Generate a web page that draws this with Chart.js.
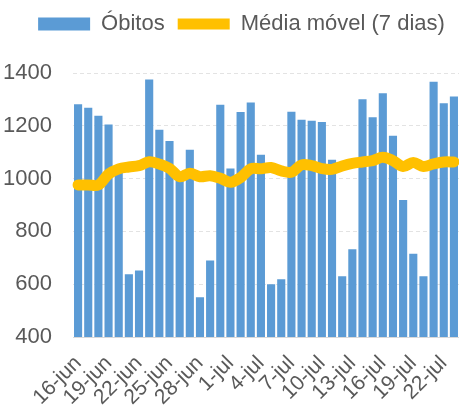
<!DOCTYPE html>
<html lang="pt">
<head>
  <meta charset="utf-8">
  <title>Óbitos</title>
  <script src="https://cdn.jsdelivr.net/npm/chart.js"></script>
  <style>
    html, body { margin: 0; padding: 0; background: #fff; overflow: hidden; }
    .chart-container { width: 459px; height: 408px; }
  </style>
</head>
<body>
  <div class="chart-container">
    <canvas id="obitosChart"></canvas>
  </div>

  <script>
    // Datas (16-jun a 23-jul)
    const dias = [
      '16-jun', '17-jun', '18-jun', '19-jun', '20-jun', '21-jun', '22-jun', '23-jun',
      '24-jun', '25-jun', '26-jun', '27-jun', '28-jun', '29-jun', '30-jun',
      '1-jul', '2-jul', '3-jul', '4-jul', '5-jul', '6-jul', '7-jul', '8-jul', '9-jul',
      '10-jul', '11-jul', '12-jul', '13-jul', '14-jul', '15-jul', '16-jul', '17-jul',
      '18-jul', '19-jul', '20-jul', '21-jul', '22-jul', '23-jul'
    ];

    // Óbitos diários
    const obitos = [
      1282, 1268, 1238, 1205, 1025, 638, 652, 1375, 1185, 1142,
      995, 1109, 551, 690, 1280, 1038, 1252, 1288, 1090, 600,
      619, 1253, 1223, 1219, 1214, 1071, 630, 732, 1301, 1232,
      1323, 1162, 919, 715, 630, 1367, 1285, 1311
    ];

    // Média móvel (7 dias)
    const mediaMovel = [
      976, 976, 976, 1017, 1037, 1044, 1049, 1064, 1055, 1039,
      1007, 1020, 1007, 1011, 1001, 986, 1004, 1037, 1037, 1042,
      1029, 1024, 1052, 1049, 1038, 1035, 1048, 1058, 1063, 1068,
      1081, 1068, 1046, 1061, 1046, 1056, 1063, 1063
    ];

    const eixoY = { min: 400, max: 1400, passo: 200 };

    const corTexto = '#595959';
    Chart.defaults.font.family = '"Liberation Sans", Arial, sans-serif';
    Chart.defaults.color = corTexto;

    // legenda com altura fixa e um pouco deslocada para a direita
    const legendaFixa = {
      id: 'legendaFixa',
      beforeLayout(chart) {
        const leg = chart.legend;
        if (!leg || leg._fixa) return;
        const fitOrig = leg.fit;
        leg.fit = function () {
          fitOrig.call(this);
          this.height = 73;
          if (this.lineWidths && this.lineWidths.length) this.lineWidths[0] -= 24;
        };
        leg._fixa = true;
      }
    };

    const ctx = document.getElementById('obitosChart').getContext('2d');
    new Chart(ctx, {
      data: {
        labels: dias,
        datasets: [
          {
            type: 'line',
            label: 'Média móvel (7 dias)',
            data: mediaMovel,
            borderColor: '#FFC000',
            backgroundColor: '#FFC000',
            borderWidth: 11,
            borderCapStyle: 'round',
            borderJoinStyle: 'round',
            pointRadius: 0,
            pointStyle: 'line',
            tension: 0.35,
            order: 0
          },
          {
            type: 'bar',
            label: 'Óbitos',
            data: obitos,
            backgroundColor: '#5B9BD5',
            pointStyle: 'rect',
            barPercentage: 0.8,
            categoryPercentage: 1,
            order: 1
          }
        ]
      },
      options: {
        responsive: true,
        maintainAspectRatio: false,
        animation: false,
        layout: { padding: 0 },
        plugins: {
          tooltip: { enabled: false },
          legend: {
            position: 'top',
            reverse: true,
            labels: {
              usePointStyle: true,
              pointStyleWidth: 52,
              boxWidth: 52,
              boxHeight: 13,
              padding: 13,
              color: corTexto,
              font: { size: 22 }
            }
          }
        },
        scales: {
          x: {
            grid: { display: false, drawTicks: false },
            border: { display: true, color: '#d9d9d9', width: 1 },
            ticks: {
              autoSkip: false,
              maxRotation: 45,
              minRotation: 45,
              padding: 14,
              font: { size: 21 },
              callback: function (val, i) {
                return i % 3 === 0 ? dias[i] : '';
              }
            },
            afterFit(scale) {
              scale.height = 71;
              scale.paddingLeft = 0;
              scale.paddingRight = 0;
            }
          },
          y: {
            min: eixoY.min,
            max: eixoY.max,
            grid: { color: '#e3e3e3', drawTicks: false },
            border: { display: false, dash: [4, 3] },
            ticks: {
              stepSize: eixoY.passo,
              padding: 21,
              font: { size: 22 },
              callback: v => String(v)
            },
            afterFit(scale) { scale.width = 73; }
          }
        }
      },
      plugins: [legendaFixa]
    });
  </script>
</body>
</html>
